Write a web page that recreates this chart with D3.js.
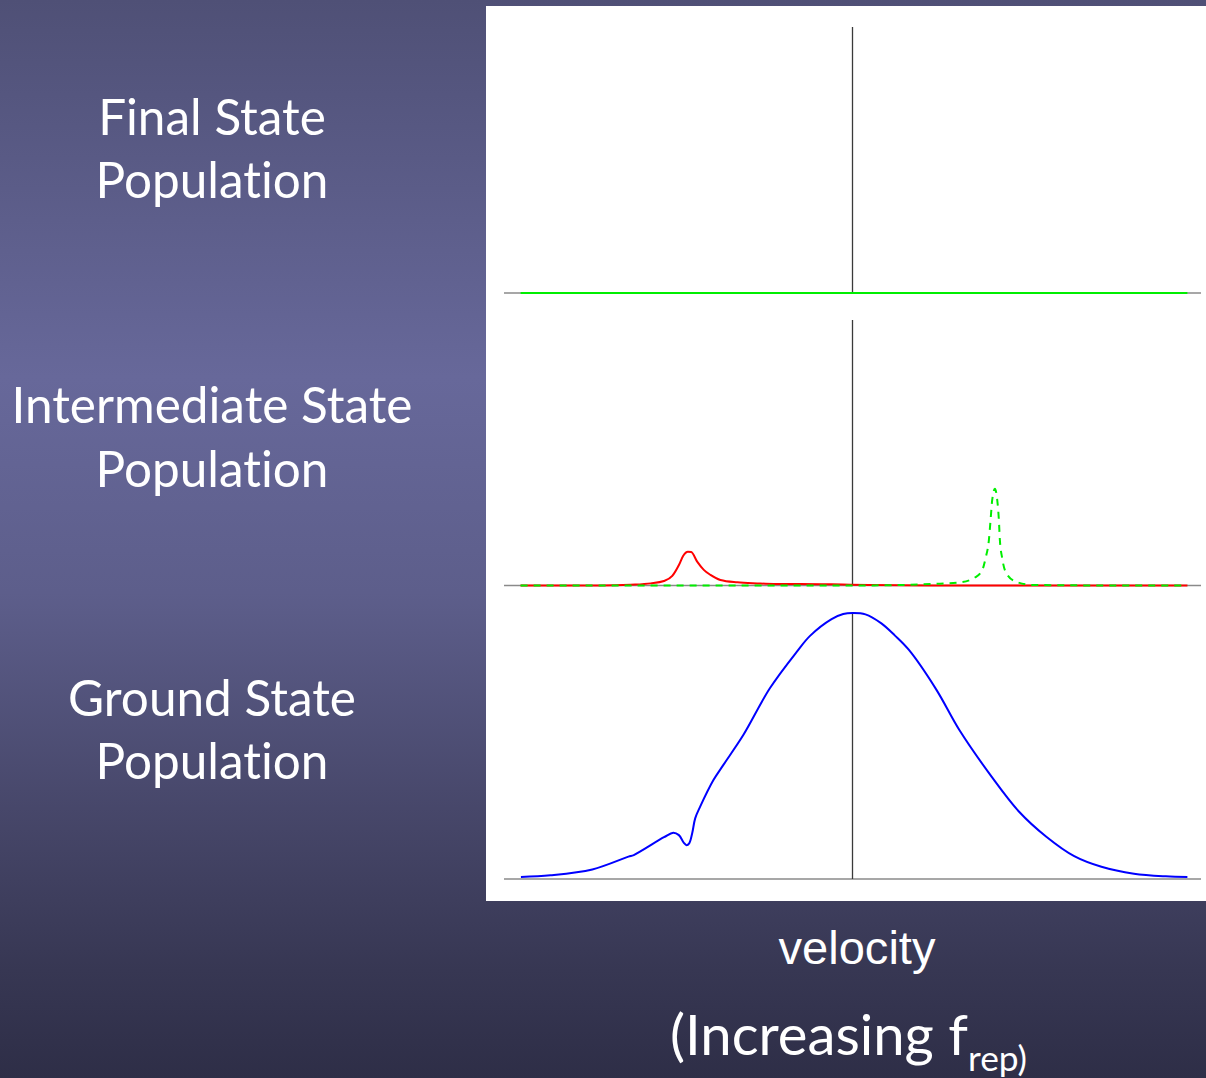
<!DOCTYPE html>
<html>
<head>
<meta charset="utf-8">
<script src="https://cdn.jsdelivr.net/npm/d3@7"></script>
<style>
  html, body { margin: 0; padding: 0; background: #2e2e47; }
  svg { display: block; }
  text { font-variant-ligatures: none; font-feature-settings: "liga" 0, "clig" 0; }
</style>
</head>
<body>
<svg id="chart" width="1206" height="1078"></svg>
<script>
// ---------- DATA ----------
// velocity in arbitrary units, centre = 0; populations normalised to panel height
const panelLabels = [["Final State", "Population"], ["Intermediate State", "Population"], ["Ground State", "Population"]];
const xAxisLabel = "velocity";
const subTitleMain = "(Increasing f";
const subTitleSub = "rep)";

// Final state: flat zero line (green)
const finalV   = [-1.0, -0.5, 0.0, 0.5, 1.009];
const finalPop = [0, 0, 0, 0, 0];

// Intermediate state, red solid
const interRedV   = [-1.0, -0.9, -0.759, -0.669, -0.608, -0.568, -0.543, -0.523, -0.510, -0.496, -0.486, -0.468, -0.448, -0.428, -0.398, -0.347, -0.287, -0.237, -0.157, -0.006, 0.145, 0.446, 0.7, 1.009];
const interRedPop = [0, 0, 0, 0.003, 0.008, 0.017, 0.036, 0.077, 0.112, 0.127, 0.126, 0.090, 0.059, 0.040, 0.021, 0.012, 0.008, 0.006, 0.006, 0.003, 0.001, 0, 0, 0];

// Intermediate state, green dashed
const interGreenV   = [-1.0, -0.5, 0.0, 0.145, 0.245, 0.325, 0.370, 0.391, 0.401, 0.411, 0.416, 0.421, 0.429, 0.436, 0.441, 0.444, 0.451, 0.461, 0.491, 0.545, 0.8, 1.009];
const interGreenPop = [0, 0, 0, 0.002, 0.006, 0.012, 0.031, 0.058, 0.103, 0.172, 0.247, 0.323, 0.364, 0.323, 0.247, 0.172, 0.103, 0.052, 0.015, 0.002, 0, 0];

// Ground state, blue solid
const groundV   = [-0.999, -0.910, -0.784, -0.675, -0.659, -0.568, -0.540, -0.523, -0.508, -0.500, -0.492, -0.483, -0.474, -0.459, -0.419, -0.389, -0.329, -0.249, -0.168, -0.128, -0.063, -0.028, 0.0, 0.039, 0.087, 0.128, 0.170, 0.253, 0.322, 0.419, 0.502, 0.584, 0.668, 0.750, 0.848, 0.944, 1.009];
const groundPop = [0.0075, 0.014, 0.036, 0.084, 0.090, 0.157, 0.174, 0.165, 0.136, 0.127, 0.134, 0.172, 0.228, 0.272, 0.372, 0.429, 0.541, 0.717, 0.854, 0.914, 0.977, 0.996, 1.0, 0.995, 0.961, 0.915, 0.861, 0.711, 0.560, 0.385, 0.253, 0.159, 0.086, 0.046, 0.020, 0.010, 0.0075];

// ---------- LAYOUT ----------
const W = 1206, H = 1078;
const svg = d3.select("#chart");

const defs = svg.append("defs");
const grad = defs.append("linearGradient").attr("id", "bg").attr("x1", 0).attr("y1", 0).attr("x2", 0).attr("y2", 1);
[[0, "#4f5076"], [0.35, "#67689a"], [0.55, "#5d5e8b"], [0.75, "#47476a"], [0.9, "#373753"], [1, "#2e2e47"]]
  .forEach(([o, c]) => grad.append("stop").attr("offset", o).attr("stop-color", c));

svg.append("rect").attr("width", W).attr("height", H).attr("fill", "url(#bg)");

// white plotting area
svg.append("rect").attr("x", 486).attr("y", 6).attr("width", 720).attr("height", 895).attr("fill", "#ffffff");

const x = d3.scaleLinear().domain([-1.05, 1.05]).range([504, 1201]);

const panels = [
  { base: 293, top: 27 },
  { base: 585.5, top: 320 },
  { base: 879, top: 613 }
];
const yScales = panels.map(p => d3.scaleLinear().domain([0, 1]).range([p.base, p.top]));

// axes
panels.forEach((p, i) => {
  const y = yScales[i];
  const g = svg.append("g");
  g.append("line")
    .attr("x1", x(-1.05)).attr("x2", x(1.05))
    .attr("y1", y(0)).attr("y2", y(0))
    .attr("stroke", "#8a8a8a").attr("stroke-width", 1.5);
  g.append("line")
    .attr("x1", x(0)).attr("x2", x(0))
    .attr("y1", y(1)).attr("y2", y(0))
    .attr("stroke", "#3a3a3a").attr("stroke-width", 1.3);
});

function drawSeries(vs, ps, yScale, color, dash, curve) {
  const data = vs.map((v, i) => [v, ps[i]]);
  const line = d3.line().x(d => x(d[0])).y(d => yScale(d[1])).curve(curve || d3.curveMonotoneX);
  svg.append("path")
    .datum(data)
    .attr("d", line)
    .attr("fill", "none")
    .attr("stroke", color)
    .attr("stroke-width", 2)
    .attr("stroke-linejoin", "round")
    .attr("stroke-dasharray", dash || null);
}

drawSeries(finalV, finalPop, yScales[0], "#00ee00");
drawSeries(interRedV, interRedPop, yScales[1], "#ff0000");
drawSeries(interGreenV, interGreenPop, yScales[1], "#00ee00", "7,6");
drawSeries(groundV, groundPop, yScales[2], "#0000ff", null, d3.curveCatmullRom.alpha(0.5));

// ---------- TEXT ----------
const labelFont = "Lato, 'Open Sans', sans-serif";
function measure(txt, family, size) {
  const t = svg.append("text").attr("font-family", family).attr("font-size", size)
    .style("font-variant-ligatures", "none").text(txt);
  const w = t.node().getComputedTextLength();
  t.remove();
  return w;
}
// fit the label font to the width of "Intermediate State" in the reference (~401px)
const labelSize = 50 * 401 / measure("Intermediate State", labelFont, 50);

const labelBaselines = [[135, 198], [423, 487], [716, 779]];
panelLabels.forEach((lines, i) => {
  lines.forEach((t, j) => {
    svg.append("text")
      .attr("x", 212).attr("y", labelBaselines[i][j])
      .attr("text-anchor", "middle")
      .attr("font-family", labelFont)
      .attr("font-size", labelSize)
      .attr("fill", "#ffffff")
      .text(t);
  });
});

// x-axis label
const vFont = "'Liberation Sans', Arial, sans-serif";
svg.append("text")
  .attr("x", 857).attr("y", 964)
  .attr("text-anchor", "middle")
  .attr("font-family", vFont)
  .attr("font-size", 40 * 157 / measure(xAxisLabel, vFont, 40))
  .attr("fill", "#ffffff")
  .text(xAxisLabel);

// (Increasing f_rep)
const mainSize = 50 * 298 / measure(subTitleMain, labelFont, 50);
const subSize = 50 * 59 / measure(subTitleSub, labelFont, 50);
svg.append("text")
  .attr("x", 670).attr("y", 1055)
  .attr("font-family", labelFont)
  .attr("font-size", mainSize)
  .attr("fill", "#ffffff")
  .text(subTitleMain);
svg.append("text")
  .attr("x", 968).attr("y", 1071)
  .attr("font-family", labelFont)
  .attr("font-size", subSize)
  .attr("fill", "#ffffff")
  .text(subTitleSub);
</script>
</body>
</html>
